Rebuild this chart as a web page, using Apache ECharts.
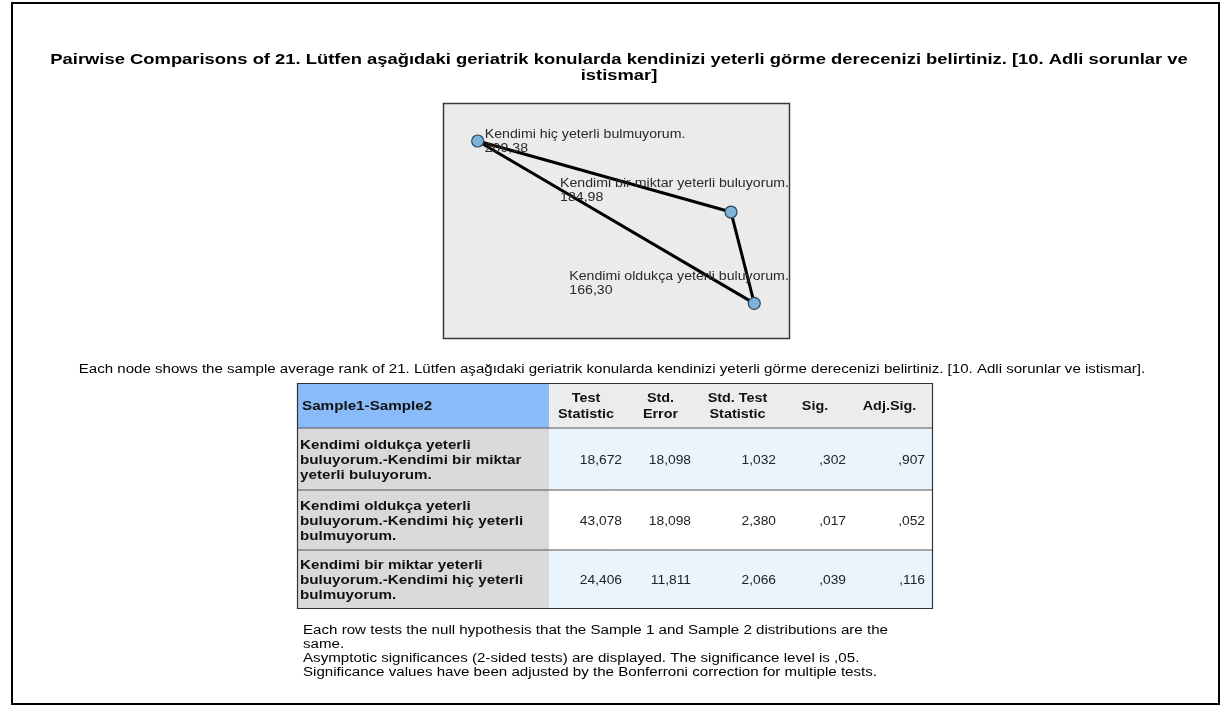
<!DOCTYPE html>
<html>
<head>
<meta charset="utf-8">
<script src="https://cdn.jsdelivr.net/npm/echarts@6/dist/echarts.min.js"></script>
<style>
  html, body { margin: 0; padding: 0; background: #fff; }
  #chart { width: 1221px; height: 709px; }
</style>
</head>
<body>
<div id="chart"></div>
<script>
// node data: sample average ranks
const nodeNames = ['Kendimi hiç yeterli bulmuyorum.', 'Kendimi bir miktar yeterli buluyorum.', 'Kendimi oldukça yeterli buluyorum.'];
const meanRanks = [209.38, 184.98, 166.30];
// layout position of each node inside the graph box (0-100 units)
const nodeLayoutX = [10.0, 83.0, 89.7];
const nodeLayoutY = [16.1, 46.2, 84.9];

// table rows (pairs refer to nodeNames indices)
const pairs = [[2, 1], [2, 0], [1, 0]];
const rowLabels = [
  'Kendimi oldukça yeterli\nbuluyorum.-Kendimi bir miktar\nyeterli buluyorum.',
  'Kendimi oldukça yeterli\nbuluyorum.-Kendimi hiç yeterli\nbulmuyorum.',
  'Kendimi bir miktar yeterli\nbuluyorum.-Kendimi hiç yeterli\nbulmuyorum.'
];
const headers = ['Test\nStatistic', 'Std.\nError', 'Std. Test\nStatistic', 'Sig.', 'Adj.Sig.'];
const testStat = [18.672, 43.078, 24.406];
const stdError = [18.098, 18.098, 11.811];
const stdTestStat = [1.032, 2.380, 2.066];
const sig = [0.302, 0.017, 0.039];
const adjSig = [0.907, 0.052, 0.116];

const titleText = 'Pairwise Comparisons of 21. Lütfen aşağıdaki geriatrik konularda kendinizi yeterli görme derecenizi belirtiniz. [10. Adli sorunlar ve\nistismar]';
const captionText = 'Each node shows the sample average rank of 21. Lütfen aşağıdaki geriatrik konularda kendinizi yeterli görme derecenizi belirtiniz. [10. Adli sorunlar ve istismar].';
const footnotes = [
  'Each row tests the null hypothesis that the Sample 1 and Sample 2 distributions are the',
  'same.',
  'Asymptotic significances (2-sided tests) are displayed. The significance level is ,05.',
  'Significance values have been adjusted by the Bonferroni correction for multiple tests.'
];

const FONT = '"Liberation Sans", Arial, sans-serif';

function fmt(v, dropZero) {
  let s = v.toFixed(3).replace('.', ',');
  if (dropZero && s.startsWith('0,')) s = s.slice(1);
  return s;
}
function fmt2(v) { return v.toFixed(2).replace('.', ','); }

const chart = echarts.init(document.getElementById('chart'));

chart.setOption({
  animation: false,
  backgroundColor: '#fff',
  grid: { left: 443, top: 103, width: 347, height: 236, show: false },
  xAxis: { type: 'value', min: 0, max: 100, show: false },
  yAxis: { type: 'value', min: 0, max: 100, inverse: true, show: false },
  series: [{
    type: 'graph',
    coordinateSystem: 'cartesian2d',
    layout: 'none',
    symbol: 'circle',
    symbolSize: 12,
    itemStyle: { color: '#7db3db', borderColor: '#2f4458', borderWidth: 1.2 },
    lineStyle: { color: '#000', width: 3, opacity: 1 },
    data: nodeNames.map((n, i) => ({ name: n, value: [nodeLayoutX[i], nodeLayoutY[i]] })),
    links: pairs.map(p => ({ source: nodeNames[p[0]], target: nodeNames[p[1]] })),
    z: 3
  }]
});

// text helper; sx stretches horizontally around the anchor point
function txt(x, y, text, font, opts) {
  opts = opts || {};
  return {
    type: 'text', x: x, y: y, scaleX: opts.sx || 1, z: opts.z || 5,
    style: {
      text: text, font: font, fill: opts.fill || '#000',
      align: opts.align || 'left', verticalAlign: opts.va || 'middle',
      lineHeight: opts.lh
    }
  };
}

// table geometry
const colEdges = [297, 549, 629, 698, 783, 853, 932];
const rowEdges = [383, 428, 490, 550, 608];
const columns = [testStat, stdError, stdTestStat, sig, adjSig];
const dropZero = [false, false, false, true, true];

const g = [];
// outer frame
g.push({ type: 'rect', shape: { x: 12, y: 3, width: 1207, height: 701 }, style: { fill: 'none', stroke: '#000', lineWidth: 2 }, z: 1 });
// title
g.push(txt(619, 52, titleText, 'bold 15px ' + FONT, { align: 'center', va: 'top', lh: 16, sx: 1.226 }));
// graph box
g.push({ type: 'rect', shape: { x: 443.5, y: 103.5, width: 346, height: 235 }, style: { fill: '#ebebeb', stroke: '#3a3a3a', lineWidth: 1.5 }, z: -10 });

// node labels, positioned from the node pixel locations
const labelOffset = [[7, -13], [-171, -35], [-185, -34]];
nodeNames.forEach((n, i) => {
  const p = chart.convertToPixel({ seriesIndex: 0 }, [nodeLayoutX[i], nodeLayoutY[i]]);
  g.push(txt(p[0] + labelOffset[i][0], p[1] + labelOffset[i][1], n + '\n' + fmt2(meanRanks[i]), '12px ' + FONT,
    { va: 'top', lh: 14, sx: 1.18, fill: '#2a2a2a', z: 10 }));
});

// caption
g.push(txt(612, 370, captionText, '12px ' + FONT, { align: 'center', sx: 1.256 }));

// table cells
g.push({ type: 'rect', shape: { x: colEdges[0], y: rowEdges[0], width: colEdges[1] - colEdges[0], height: rowEdges[1] - rowEdges[0] }, style: { fill: '#89bbf8' } });
g.push({ type: 'rect', shape: { x: colEdges[1], y: rowEdges[0], width: colEdges[6] - colEdges[1], height: rowEdges[1] - rowEdges[0] }, style: { fill: '#ececec' } });
g.push(txt(302, (rowEdges[0] + rowEdges[1]) / 2 + 1, 'Sample1-Sample2', 'bold 13px ' + FONT, { sx: 1.17, fill: '#111' }));
headers.forEach((h, j) => {
  g.push(txt((colEdges[j + 1] + colEdges[j + 2]) / 2 - 3, (rowEdges[0] + rowEdges[1]) / 2 + 1, h, 'bold 12px ' + FONT,
    { align: 'center', lh: 16, sx: 1.2, fill: '#111' }));
});
rowLabels.forEach((lab, i) => {
  const y0 = rowEdges[i + 1], y1 = rowEdges[i + 2];
  const cy = (y0 + y1) / 2 + 1.5;
  g.push({ type: 'rect', shape: { x: colEdges[0], y: y0, width: colEdges[1] - colEdges[0], height: y1 - y0 }, style: { fill: '#d9d9d9' } });
  g.push({ type: 'rect', shape: { x: colEdges[1], y: y0, width: colEdges[6] - colEdges[1], height: y1 - y0 }, style: { fill: i === 1 ? '#ffffff' : '#eaf4fd' } });
  g.push(txt(300, cy, lab, 'bold 13px ' + FONT, { lh: 15, sx: 1.17, fill: '#111' }));
  columns.forEach((col, j) => {
    g.push(txt(colEdges[j + 2] - 7, cy, fmt(col[i], dropZero[j]), '12px ' + FONT, { align: 'right', sx: 1.15, fill: '#222' }));
  });
  g.push({ type: 'line', shape: { x1: colEdges[0], y1: y0, x2: colEdges[6], y2: y0 }, style: { stroke: '#555', lineWidth: 1 } });
});
g.push({ type: 'rect', shape: { x: colEdges[0] + 0.5, y: rowEdges[0] + 0.5, width: colEdges[6] - colEdges[0], height: rowEdges[4] - rowEdges[0] }, style: { fill: 'none', stroke: '#333', lineWidth: 1.2 } });

// footnotes
footnotes.forEach((t, i) => {
  g.push(txt(303, 631 + i * 14, t, '12px ' + FONT, { sx: 1.26 }));
});

chart.setOption({ graphic: g });
</script>
</body>
</html>
